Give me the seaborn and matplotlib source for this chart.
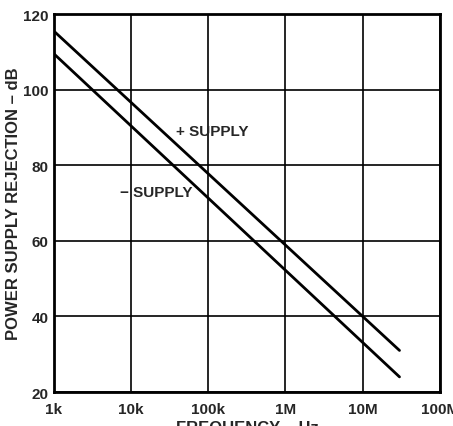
import pandas as pd
import matplotlib.pyplot as plt
import seaborn as sns

freq = [1e3, 3e7]
plus_supply = [115.5, 31.0]
minus_supply = [109.5, 24.0]

xticks = [1e3, 1e4, 1e5, 1e6, 1e7, 1e8]
xtick_labels = ["1k", "10k", "100k", "1M", "10M", "100M"]
yticks = [20, 40, 60, 80, 100, 120]

df = pd.DataFrame({
    "freq": freq * 2,
    "psr": plus_supply + minus_supply,
    "supply": ["+SUPPLY"] * 2 + ["\u2212SUPPLY"] * 2,
})

sns.set_style("white")
plt.rcParams["font.family"] = ["Liberation Sans", "DejaVu Sans"]
plt.rcParams["font.weight"] = "bold"

fig = plt.figure(figsize=(4.53, 4.27), dpi=100)
ax = fig.add_axes([0.119, 0.0796, 0.852, 0.885])

sns.lineplot(data=df, x="freq", y="psr", units="supply", estimator=None,
             color="black", linewidth=2, legend=False, ax=ax)

ax.set_xscale("log")
ax.set_xlim(1e3, 1e8)
ax.set_ylim(20, 120)
ax.set_xticks(xticks)
ax.set_xticklabels(xtick_labels)
ax.minorticks_off()
ax.set_yticks(yticks)
ax.grid(True, color="black", linewidth=1.2)
for s in ax.spines.values():
    s.set_color("black")
    s.set_linewidth(2)
ax.tick_params(axis="x", length=0, labelsize=11, pad=7)
ax.tick_params(axis="y", length=0, labelsize=11, pad=4)
for lab in ax.get_xticklabels() + ax.get_yticklabels():
    lab.set_fontweight("bold")

ax.text(3.8e4, 89, "+ SUPPLY", fontsize=11, fontweight="bold", va="center")
ax.text(7.2e3, 72.9, "\u2212 SUPPLY", fontsize=11, fontweight="bold", va="center")

ax.set_xlabel("FREQUENCY \u2013 Hz", fontsize=12, fontweight="bold", labelpad=3)
ax.set_ylabel("POWER SUPPLY REJECTION \u2013 dB", fontsize=12, fontweight="bold", labelpad=1)

fig.savefig("out.png", dpi=100)
